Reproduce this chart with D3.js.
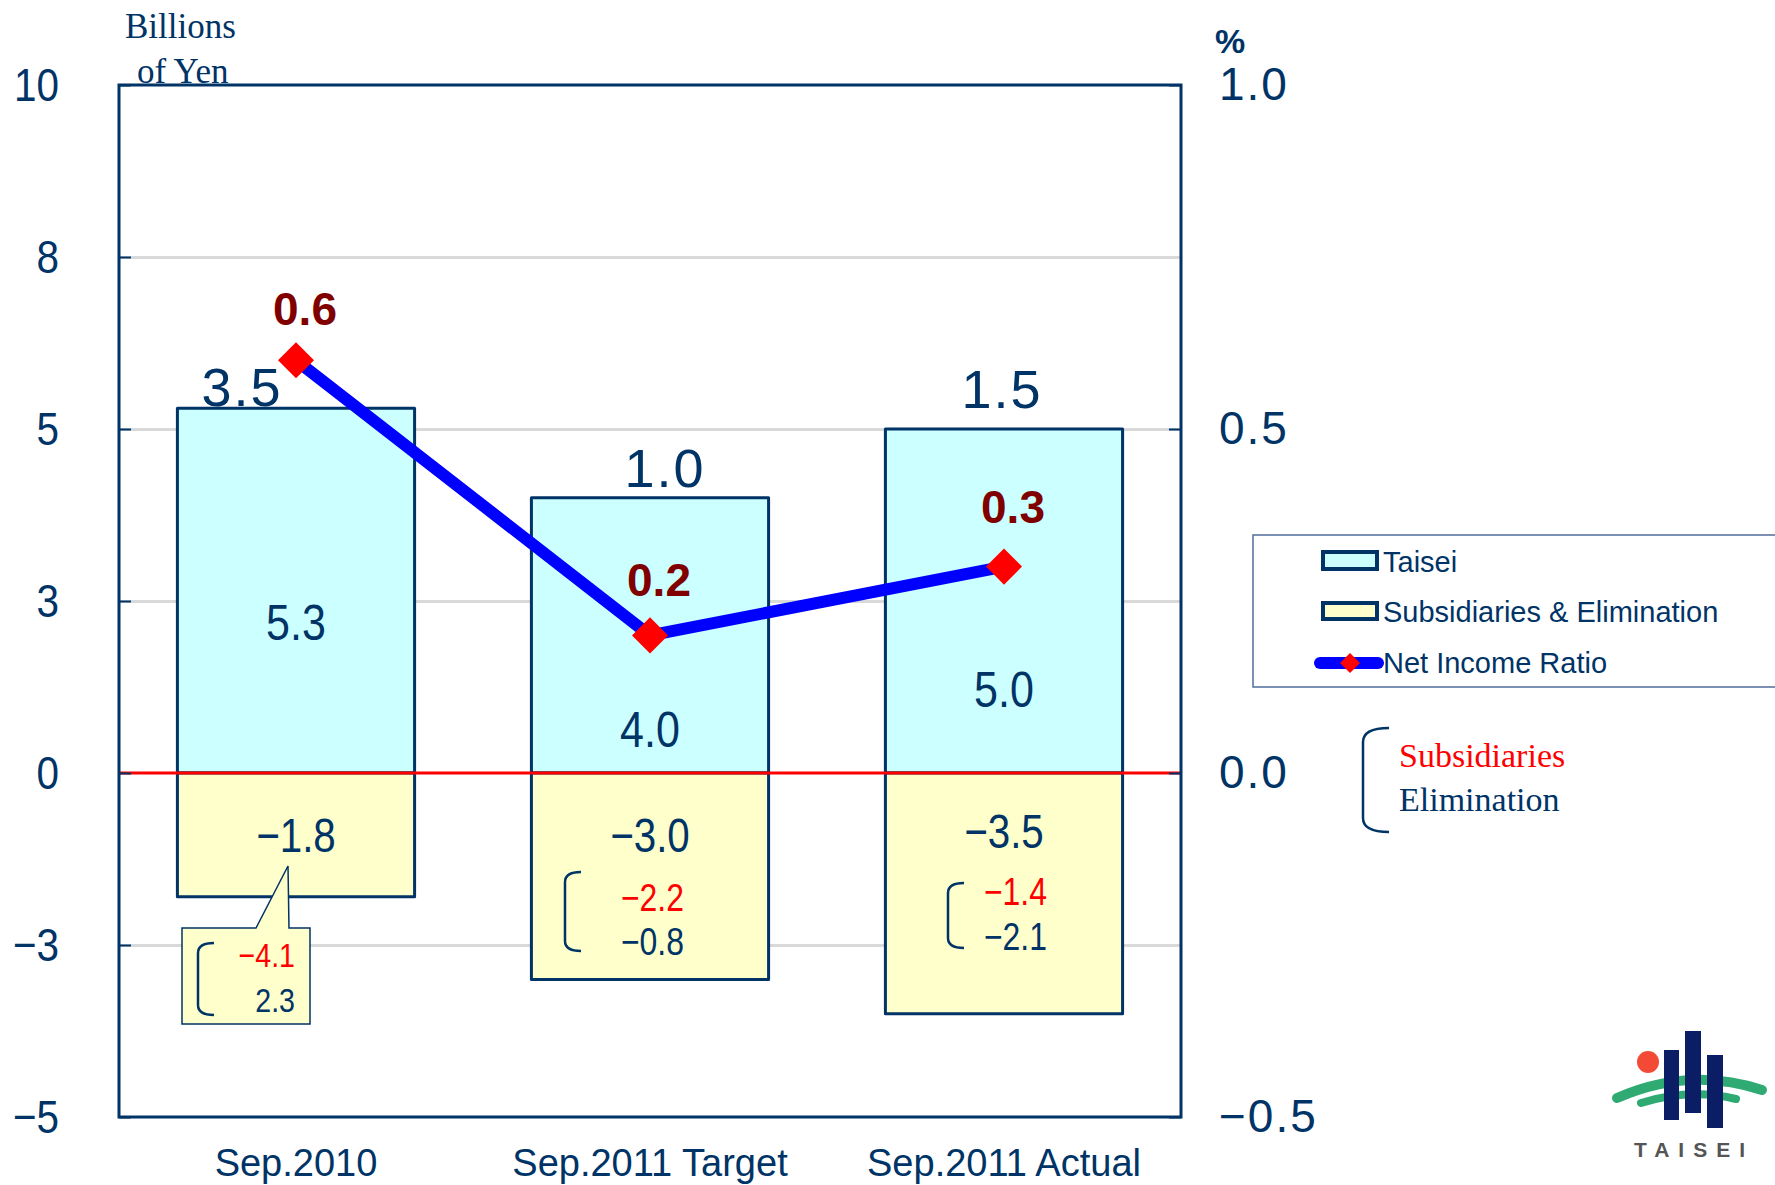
<!DOCTYPE html>
<html>
<head>
<meta charset="utf-8">
<script src="https://cdn.jsdelivr.net/npm/d3@7"></script>
<style>
  body { margin: 0; background: #fff; }
  svg { display: block; font-family: "Liberation Sans", Arial, sans-serif; }
</style>
</head>
<body>
<svg id="chart"></svg>
<script>
// values
const categories = ["Sep.2010", "Sep.2011 Target", "Sep.2011 Actual"];
const taisei = [5.3, 4.0, 5.0];
const subsidiariesElim = [-1.8, -3.0, -3.5];
const totals = [3.5, 1.0, 1.5];
const netIncomeRatio = [0.6, 0.2, 0.3];
const subsidiaries = [-4.1, -2.2, -1.4];
const elimination = [2.3, -0.8, -2.1];
const leftTicks = [10, 7.5, 5, 2.5, 0, -2.5, -5];
const leftTickLabels = ["10", "8", "5", "3", "0", "\u22123", "\u22125"];
const rightTicks = [1.0, 0.5, 0.0, -0.5];
const rightTickLabels = ["1.0", "0.5", "0.0", "\u22120.5"];
const seriesNames = ["Taisei", "Subsidiaries & Elimination", "Net Income Ratio"];

const W = 1775, H = 1185;
const margin = { top: 85, right: 594, bottom: 68, left: 119 };
const width = W - margin.left - margin.right;
const height = H - margin.top - margin.bottom;

const navy = "#003366";
const fmt = v => (v < 0 ? "\u2212" : "") + Math.abs(v).toFixed(1);

// squeeze text horizontally (reference font is a narrow gothic)
function squeeze(sel, k) {
    sel.each(function() {
        const w = this.getComputedTextLength();
        d3.select(this).attr('textLength', w * k).attr('lengthAdjust', 'spacingAndGlyphs');
    });
}

const root = d3.select('#chart').attr('width', W).attr('height', H);
const svg = root.append('g').attr('transform', `translate(${margin.left},${margin.top})`);

const x = d3.scaleBand().domain(categories).range([0, width]).padding(0);
const barW = x.bandwidth() * 0.67;
const cx = i => x(categories[i]) + x.bandwidth() / 2;

const y = d3.scaleLinear().domain([-5, 10]).range([height, 0]);
const y2 = d3.scaleLinear().domain([-0.5, 1.0]).range([height, 0]);

// gridlines
const grid = svg.append('g')
    .call(d3.axisLeft(y).tickValues(leftTicks.filter(d => d !== 0 && d !== 10 && d !== -5)).tickSize(-width).tickFormat(''));
grid.select('.domain').remove();
grid.selectAll('line').attr('stroke', '#d9d9d9').attr('stroke-width', 3);

// bars
svg.selectAll('.taisei')
    .data(taisei)
    .enter()
    .append('rect')
    .attr('class', 'taisei')
    .attr('x', (d, i) => cx(i) - barW / 2)
    .attr('y', d => y(d))
    .attr('width', barW)
    .attr('height', d => y(0) - y(d))
    .attr('fill', '#ccffff')
    .attr('stroke', navy)
    .attr('stroke-width', 3)
    .attr('stroke-linejoin', 'round');

svg.selectAll('.subs')
    .data(subsidiariesElim)
    .enter()
    .append('rect')
    .attr('class', 'subs')
    .attr('x', (d, i) => cx(i) - barW / 2)
    .attr('y', y(0))
    .attr('width', barW)
    .attr('height', d => y(d) - y(0))
    .attr('fill', '#ffffcc')
    .attr('stroke', navy)
    .attr('stroke-width', 3)
    .attr('stroke-linejoin', 'round');

// zero line
svg.append('line')
    .attr('x1', 0).attr('x2', width)
    .attr('y1', y(0)).attr('y2', y(0))
    .attr('stroke', '#ff0000').attr('stroke-width', 3);

// inner tick marks
const tl = svg.append('g').call(d3.axisLeft(y).tickValues(leftTicks).tickSize(-12).tickFormat(''));
tl.select('.domain').remove();
tl.selectAll('line').attr('stroke', navy).attr('stroke-width', 2);
const tr = svg.append('g').attr('transform', `translate(${width},0)`)
    .call(d3.axisRight(y2).tickValues(rightTicks).tickSize(-12).tickFormat(''));
tr.select('.domain').remove();
tr.selectAll('line').attr('stroke', navy).attr('stroke-width', 2);

// plot frame
svg.append('rect')
    .attr('width', width).attr('height', height)
    .attr('fill', 'none').attr('stroke', navy).attr('stroke-width', 3);

// axis labels
const axL = svg.append('g')
    .call(d3.axisLeft(y).tickValues(leftTicks).tickFormat((d, i) => leftTickLabels[i]).tickSize(0).tickPadding(60));
axL.select('.domain').remove();
axL.selectAll('text').attr('fill', navy).style('font-size', '47px').style('font-family', 'Liberation Sans, Arial, sans-serif');
squeeze(axL.selectAll('text'), 0.86);

const axR = svg.append('g').attr('transform', `translate(${width},0)`)
    .call(d3.axisRight(y2).tickValues(rightTicks).tickFormat((d, i) => rightTickLabels[i]).tickSize(0).tickPadding(38));
axR.select('.domain').remove();
axR.selectAll('text').attr('fill', navy).style('font-size', '46px').style('font-family', 'Liberation Sans, Arial, sans-serif')
    .attr('letter-spacing', 2);

const axB = svg.append('g').attr('transform', `translate(0,${height})`)
    .call(d3.axisBottom(x).tickSize(0).tickPadding(32));
axB.select('.domain').remove();
axB.selectAll('text').attr('fill', navy).style('font-size', '38px').style('font-family', 'Liberation Sans, Arial, sans-serif');

// unit titles
svg.append('text').attr('x', 125 - margin.left).attr('y', 38 - margin.top)
    .attr('font-family', 'Liberation Serif, Times New Roman, serif').attr('font-size', 35).attr('fill', navy)
    .text('Billions');
svg.append('text').attr('x', 137 - margin.left).attr('y', 83 - margin.top)
    .attr('font-family', 'Liberation Serif, Times New Roman, serif').attr('font-size', 35).attr('fill', navy)
    .text('of Yen');
svg.append('text').attr('x', width + 34).attr('y', 53 - margin.top)
    .attr('font-size', 34).attr('font-weight', 'bold').attr('fill', navy)
    .text('%');

// net income ratio line
const line = d3.line().x((d, i) => cx(i)).y(d => y2(d));
svg.append('path')
    .datum(netIncomeRatio)
    .attr('d', line)
    .attr('fill', 'none')
    .attr('stroke', '#0000ff')
    .attr('stroke-width', 12)
    .attr('stroke-linejoin', 'round');

svg.selectAll('.marker')
    .data(netIncomeRatio)
    .enter()
    .append('path')
    .attr('class', 'marker')
    .attr('d', d3.symbol(d3.symbolSquare, 650))
    .attr('transform', (d, i) => `translate(${cx(i)},${y2(d)}) rotate(45)`)
    .attr('fill', '#ff0000');

// ratio labels
const ratioDy = [-35, -39, -44];
svg.selectAll('.ratioLabel')
    .data(netIncomeRatio)
    .enter()
    .append('text')
    .attr('x', (d, i) => cx(i) + 9)
    .attr('y', (d, i) => y2(d) + ratioDy[i])
    .attr('text-anchor', 'middle')
    .attr('font-size', 46).attr('font-weight', 'bold').attr('fill', '#800000')
    .text(d => d.toFixed(1));

// totals above bars (placed by hand in the original)
const totalDx = [-54, 15, -2];
const totalDy = [-2, -11, -21];
svg.selectAll('.total')
    .data(totals)
    .enter()
    .append('text')
    .attr('x', (d, i) => cx(i) + totalDx[i])
    .attr('y', (d, i) => y(taisei[i]) + totalDy[i])
    .attr('text-anchor', 'middle')
    .attr('font-size', 54).attr('fill', navy)
    .attr('letter-spacing', 2)
    .text(d => d.toFixed(1));

// value labels inside the bars
const taiseiDy = [-133, -26, -66];
const tLab = svg.selectAll('.tLab')
    .data(taisei)
    .enter()
    .append('text')
    .attr('x', (d, i) => cx(i))
    .attr('y', (d, i) => y(0) + taiseiDy[i])
    .attr('text-anchor', 'middle')
    .attr('font-size', 50).attr('fill', navy)
    .text(d => d.toFixed(1));
squeeze(tLab, 0.86);

const subsDy = [79, 79, 75];
const sLab = svg.selectAll('.sLab')
    .data(subsidiariesElim)
    .enter()
    .append('text')
    .attr('x', (d, i) => cx(i))
    .attr('y', (d, i) => y(0) + subsDy[i])
    .attr('text-anchor', 'middle')
    .attr('font-size', 48).attr('fill', navy)
    .text(d => fmt(d));
squeeze(sLab, 0.84);

// breakdown callouts
function bracket(g, x0, top, bot, w, r) {
    g.append('path')
        .attr('d', `M${x0 + w},${top} Q${x0},${top} ${x0},${top + r} L${x0},${bot - r} Q${x0},${bot} ${x0 + w},${bot}`)
        .attr('fill', 'none').attr('stroke', navy).attr('stroke-width', 2.5);
}

const notes = [
    { bx: -98, top: 170, bot: 242, tx: -1, r1: 194, r2: 239, size: 34 },
    { bx: -85, top: 99, bot: 178, tx: 34, r1: 138, r2: 182, size: 38 },
    { bx: -56, top: 110, bot: 175, tx: 43, r1: 132, r2: 177, size: 38 }
];

// speech-bubble box for the first category
const c0 = cx(0), z = y(0);
svg.append('path')
    .attr('d', `M${c0 - 114},${z + 155} L${c0 - 40},${z + 155} L${c0 - 8},${z + 93} L${c0 - 7},${z + 155} L${c0 + 14},${z + 155} L${c0 + 14},${z + 251} L${c0 - 114},${z + 251} Z`)
    .attr('fill', '#ffffcc').attr('stroke', navy).attr('stroke-width', 1.5);

notes.forEach((n, i) => {
    const c = cx(i);
    bracket(svg, c + n.bx, z + n.top, z + n.bot, 16, 10);
    const a = svg.append('text').attr('x', c + n.tx).attr('y', z + n.r1)
        .attr('text-anchor', 'end').attr('font-size', n.size).attr('fill', '#ff0000')
        .text(fmt(subsidiaries[i]));
    const b = svg.append('text').attr('x', c + n.tx).attr('y', z + n.r2)
        .attr('text-anchor', 'end').attr('font-size', n.size).attr('fill', navy)
        .text(fmt(elimination[i]));
    squeeze(a, 0.84);
    squeeze(b, 0.84);
});

// legend
const leg = root.append('g');
leg.append('rect')
    .attr('x', 1253).attr('y', 535).attr('width', 600).attr('height', 152)
    .attr('fill', '#fff').attr('stroke', '#4f6d9a').attr('stroke-width', 1.5);
leg.append('rect').attr('x', 1323).attr('y', 552).attr('width', 54).attr('height', 17)
    .attr('fill', '#ccffff').attr('stroke', navy).attr('stroke-width', 4);
leg.append('rect').attr('x', 1323).attr('y', 603).attr('width', 54).attr('height', 16)
    .attr('fill', '#ffffcc').attr('stroke', navy).attr('stroke-width', 4);
leg.append('line').attr('x1', 1320).attr('x2', 1378).attr('y1', 663).attr('y2', 663)
    .attr('stroke', '#0000ff').attr('stroke-width', 12).attr('stroke-linecap', 'round');
leg.append('path').attr('d', d3.symbol(d3.symbolSquare, 200))
    .attr('transform', 'translate(1350,663) rotate(45)').attr('fill', '#ff0000');
leg.selectAll('.legText')
    .data(seriesNames)
    .enter()
    .append('text')
    .attr('x', 1383)
    .attr('y', (d, i) => [572, 622, 673][i])
    .attr('font-size', 29).attr('fill', navy)
    .text(d => d);

// side note
const note = root.append('g');
bracket(note, 1363, 728, 832, 26, 14);
note.append('text').attr('x', 1399).attr('y', 767)
    .attr('font-family', 'Liberation Serif, Times New Roman, serif').attr('font-size', 34).attr('fill', '#ff0000')
    .text('Subsidiaries');
note.append('text').attr('x', 1399).attr('y', 811)
    .attr('font-family', 'Liberation Serif, Times New Roman, serif').attr('font-size', 34).attr('fill', navy)
    .text('Elimination');

// logo
const logo = root.append('g');
logo.append('path')
    .attr('d', 'M1617,1098 Q1690,1066 1762,1090')
    .attr('fill', 'none').attr('stroke', '#2faa72').attr('stroke-width', 10).attr('stroke-linecap', 'round');
logo.append('path')
    .attr('d', 'M1641,1103 Q1690,1088 1736,1099')
    .attr('fill', 'none').attr('stroke', '#2faa72').attr('stroke-width', 8).attr('stroke-linecap', 'round');
logo.append('circle').attr('cx', 1648).attr('cy', 1062).attr('r', 11).attr('fill', '#f24a35');
logo.append('rect').attr('x', 1664).attr('y', 1050).attr('width', 15).attr('height', 70).attr('fill', '#0b1d64');
logo.append('rect').attr('x', 1685).attr('y', 1031).attr('width', 16).attr('height', 82).attr('fill', '#0b1d64');
logo.append('rect').attr('x', 1707).attr('y', 1055).attr('width', 16).attr('height', 73).attr('fill', '#0b1d64');
logo.append('text').attr('x', 1694).attr('y', 1157).attr('text-anchor', 'middle')
    .attr('font-size', 21).attr('font-weight', 'bold').attr('fill', '#555').attr('letter-spacing', 9)
    .text('TAISEI');
</script>
</body>
</html>
